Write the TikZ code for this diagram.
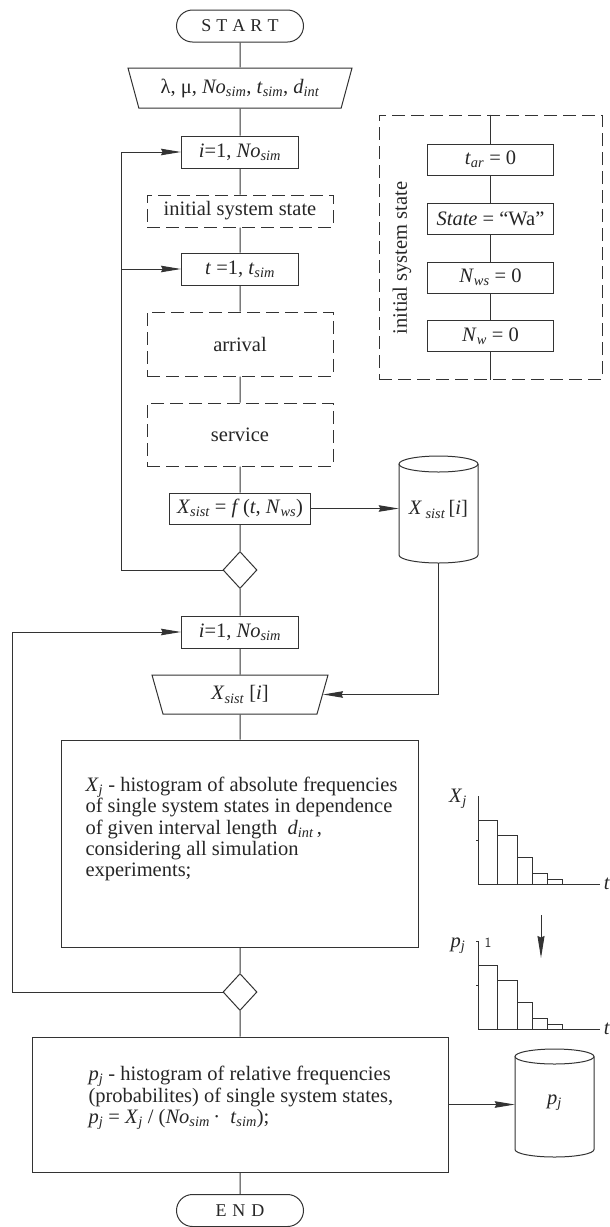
\documentclass[tikz,border=0pt]{standalone}
\usepackage{fontspec}
\setmainfont{Liberation Serif}
\usetikzlibrary{shapes.geometric,arrows.meta}
\newcommand{\idx}[1]{\textsubscript{\itshape #1}}
\begin{document}
\begin{tikzpicture}[x=1pt,y=-1pt,
  every node/.style={font=\fontsize{20.5}{21.3}\selectfont, text=black!85},
  line/.style={draw=black!80, line width=1pt},
  arr/.style={line, -{Stealth[length=20pt,width=6.5pt,inset=1.5pt]}},
  box/.style={line, fill=white, minimum width=117, minimum height=32, inner sep=2pt},
  dbox/.style={line, dash pattern=on 13pt off 6pt, minimum width=186, minimum height=32},
  term/.style={line, rounded corners=16pt, minimum width=127, minimum height=32,
    font=\fontsize{18}{18}\selectfont},
  iotrap/.style={line, trapezium, shape border rotate=180, trapezium stretches body,
    inner sep=2pt},
  decide/.style={line, diamond, minimum width=34, minimum height=37, inner sep=0pt}]
\useasboundingbox (0,0) rectangle (610,1227);

% main column
\node[term] (start) at (240,26) {S\kern5pt T\kern5pt A\kern5pt R\kern5pt T};
\node[iotrap, trapezium left angle=64.6, trapezium right angle=64.6,
  minimum width=224, minimum height=40] (inp) at (240,88)
  {λ, μ, \textit{No}\idx{sim}, \textit{t}\idx{sim}, \textit{d}\idx{int}};
\node[box] (loop1) at (240,152) {\textit{i}=1, \textit{No}\idx{sim}};
\node[dbox] (init) at (240,211) {initial system state};
\node[box] (tloop) at (240,269) {\textit{t} =1, \textit{t}\idx{sim}};
\node[dbox, minimum height=64] (arrival) at (240,344) {arrival};
\node[dbox, minimum height=63] (service) at (240,434.5) {service};
\node[box, minimum width=141, minimum height=31] (xfun) at (240,508.5)
  {\textit{X}\idx{sist} = \textit{f}\,(\textit{t}, \textit{N}\idx{ws})};
\node[decide] (dec1) at (240,570) {};
\node[box] (loop2) at (240,632) {\textit{i}=1, \textit{No}\idx{sim}};
\node[iotrap, trapezium left angle=62.9, trapezium right angle=62.9,
  minimum width=176, minimum height=39] (trap2) at (240,694.5)
  {\textit{X}\idx{sist} [\textit{i}]};
\node[line, minimum width=357, minimum height=207] (xbox) at (240,843.5) {};
\node[anchor=west, align=left] (xtext) at (82,829)
  {\textit{X}\idx{j} - histogram of absolute frequencies\\
   of single system states in dependence\\
   of given interval length~ \textit{d}\idx{int}\,,\\
   considering all simulation\\
   experiments;};
\node[decide] (dec2) at (240,992) {};
\node[line, minimum width=416, minimum height=135] (fin) at (240,1104.5) {};
\node[anchor=west, align=left] (fintext) at (85,1098)
  {\textit{p}\idx{j} - histogram of relative frequencies\\
   (probabilites) of single system states,\\
   \textit{p}\idx{j} = \textit{X}\idx{j} / (\textit{No}\idx{sim}\,·~ \textit{t}\idx{sim});};
\node[term] (end) at (240,1210.5) {E\kern6pt N\kern6pt D};

\draw[line] (start) -- (inp) -- (loop1) -- (init) -- (tloop) -- (arrival) -- (service)
  -- (xfun) -- (dec1) -- (loop2) -- (trap2) -- (xbox) -- (dec2) -- (fin) -- (end);

% loops back
\coordinate (loopA) at (121,570);
\draw[arr] (dec1.west) -- (loopA) |- (loop1.west);
\draw[arr] (loopA |- tloop.west) -- (tloop.west);
\coordinate (loopB) at (12,992);
\draw[arr] (dec2.west) -- (loopB) |- (loop2.west);

% stores
\node[minimum width=79, minimum height=107, inner sep=0pt] (store1) at (438.5,509.5)
  {\textit{X}\,\idx{sist}\,[\textit{i}]};
\draw[line] (438.5,464) ellipse (39.5 and 8);
\draw[line] (399,464) -- (399,555) arc (180:0:39.5 and 8) -- (478,464);
\draw[arr] (xfun.east) -- (xfun.east -| store1.west);
\draw[arr] (store1.south) |- (trap2.east);

\node[minimum width=79, minimum height=108, inner sep=0pt] (pstore) at (554.5,1103)
  {\raisebox{-8pt}{\textit{p}\idx{j}}};
\draw[line] (554.5,1056.5) ellipse (39.5 and 7.5);
\draw[line] (515,1056.5) -- (515,1149.5) arc (180:0:39.5 and 7.5) -- (594,1056.5);
\draw[arr] (fin.east) -- (fin.east -| pstore.west);

% initial system state, detail
\node[line, dash pattern=on 13pt off 6pt, minimum width=223, minimum height=264]
  (initbox) at (490.5,247) {};
\node[rotate=90] (initlab) at (402,258) {initial system state};
\node[box, minimum width=126, minimum height=31] (tar) at (490.5,159.5) {\textit{t}\idx{ar} = 0};
\node[box, minimum width=126, minimum height=31] (state) at (490.5,218.5) {\textit{State} = “Wa”};
\node[box, minimum width=126, minimum height=31] (nws) at (490.5,277.5) {\textit{N}\idx{ws} = 0};
\node[box, minimum width=126, minimum height=31] (nw) at (490.5,336) {\textit{N}\idx{w} = 0};
\draw[line] (initbox.north) -- (tar) -- (state) -- (nws) -- (nw) -- (initbox.south);

% histograms
\foreach \dy in {0,145} {
  \draw[line] (478,796+\dy) -- (478,884+\dy) -- (600,884+\dy);
  \draw[line] (476,840+\dy) -- (478,840+\dy);
  \foreach \xa/\xb/\h in {478/497/820, 497/517/835, 517/532/857, 532/547/873, 547/562/879}
    \draw[line] (\xa,884+\dy) rectangle (\xb,\h+\dy);
}
\draw[line] (476,941) -- (478,941);
\node (xjlab) at (458,799) {\textit{X}\idx{j}};
\node (tlab1) at (607,884) {\textit{t}};
\node (pjlab) at (458,946) {\textit{p}\idx{j}};
\node (one) at (488,943) {\sffamily\fontsize{14}{14}\selectfont 1};
\node (tlab2) at (607,1029) {\textit{t}};
\coordinate (hdA) at (541,915);
\coordinate (hdB) at (541,958);
\draw[line, -{Stealth[length=22pt,width=7pt,inset=1.5pt]}] (hdA) -- (hdB);
\end{tikzpicture}
\end{document}
